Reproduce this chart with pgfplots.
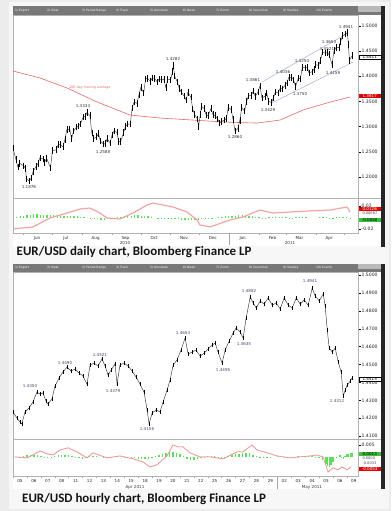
\documentclass[border=0pt]{standalone}
\usepackage{fontspec}
\usepackage{pgfplots}
\usepackage{pgfplotstable}
\pgfplotsset{compat=1.18}
\setmainfont{DejaVu Sans}
\newfontfamily\capfont{Carlito}
\newcommand{\tk}{\fontsize{4.6}{5}\selectfont}
\newcommand{\tkk}{\fontsize{4.1}{4.5}\selectfont}
\newcommand{\tbf}{\fontsize{3}{3.5}\selectfont}
\definecolor{bgc}{HTML}{ECECEC}
\definecolor{innerc}{HTML}{F7F7F7}
\definecolor{tb}{HTML}{787878}
\definecolor{mared}{HTML}{E46A6A}
\definecolor{oscred}{HTML}{EC8A8A}
\definecolor{oscgreen}{HTML}{3FD83F}
\definecolor{trend}{HTML}{A8AEDC}
\definecolor{lbl}{HTML}{383838}
\definecolor{hlbl}{HTML}{4A4A6E}

\pgfplotstableread{
d c
-11 1.257
-8 1.235
-6 1.220
-4 1.227
0 1.222
2 1.217
3 1.196
6 1.192
8 1.198
10 1.211
13 1.221
15 1.227
17 1.238
20 1.236
22 1.229
24 1.237
28 1.218
30 1.252
34 1.254
36 1.264
38 1.264
41 1.260
43 1.274
45 1.294
48 1.295
50 1.276
52 1.291
55 1.299
57 1.301
59 1.305
62 1.319
64 1.320
66 1.328
69 1.322
71 1.287
73 1.276
76 1.280
78 1.286
80 1.271
83 1.265
85 1.266
87 1.276
90 1.267
92 1.283
94 1.291
97 1.289
99 1.270
101 1.270
104 1.288
106 1.300
108 1.305
111 1.305
113 1.337
115 1.349
118 1.346
120 1.363
122 1.378
125 1.367
127 1.395
129 1.396
132 1.390
134 1.397
136 1.396
139 1.389
141 1.395
143 1.394
146 1.394
148 1.378
150 1.394
153 1.393
155 1.410
156 1.422
157 1.401
160 1.389
162 1.376
164 1.369
167 1.361
169 1.353
171 1.368
174 1.359
176 1.335
178 1.324
181 1.315
182 1.300
184 1.324
185 1.340
188 1.336
190 1.323
192 1.322
195 1.336
197 1.324
199 1.322
202 1.315
204 1.307
206 1.310
209 1.313
211 1.316
213 1.338
216 1.334
218 1.314
220 1.291
223 1.296
225 1.312
227 1.338
230 1.331
232 1.350
234 1.361
237 1.362
239 1.371
241 1.360
244 1.369
246 1.381
248 1.357
251 1.360
253 1.367
255 1.350
258 1.348
260 1.357
262 1.369
265 1.367
267 1.376
269 1.375
272 1.382
274 1.387
276 1.398
279 1.398
281 1.393
283 1.380
286 1.397
288 1.395
290 1.418
293 1.417
295 1.418
297 1.407
300 1.409
302 1.414
304 1.423
307 1.422
309 1.432
311 1.448
314 1.446
316 1.447
318 1.443
321 1.423
323 1.451
325 1.457
328 1.457
330 1.469
332 1.481
335 1.484
337 1.487
338 1.463
339 1.432
342 1.441
}\dprice

\pgfplotstableread{
d m
-11 1.4106
17.1 1.3967
45.2 1.3768
76.4 1.3490
110.7 1.3230
142 1.3170
176.3 1.3130
209.6 1.3090
242.9 1.3070
266.8 1.3130
290.8 1.3330
315.7 1.3470
339.7 1.3590
}\dma

\pgfplotstableread{
d v
-11 -0.0200
9.8 -0.0165
27.5 -0.0009
45.2 0.0078
58.7 0.0148
69.1 0.0165
79.5 0.0078
86.8 -0.0009
100.3 -0.0026
113.9 0.0078
128.4 0.0217
134.7 0.0252
155.5 0.0183
170.1 0.0096
180.5 -0.0043
183.6 -0.0130
194 -0.0165
214.8 -0.0043
228.3 0.0009
246 0.0130
259.6 0.0078
277.2 0.0096
294.9 0.0113
318.9 0.0130
336.6 0.0183
339.7 0.0096
}\dosc

\pgfplotstableread{
d h
-7 0.001
-3.5 0.002
0 0.003
3.5 0.004
7 0.005
10.5 0.006
14 0.006
17.5 0.005
21 0.005
24.5 0.004
28 0.004
31.5 0.004
35 0.004
38.5 0.003
42 0.003
45.5 0.003
49 0.003
52.5 0.002
56 0.002
59.5 0.001
63 0.001
66.5 0.000
70 -0.001
73.5 -0.002
77 -0.003
80.5 -0.004
84 -0.004
87.5 -0.003
91 -0.003
94.5 -0.001
98 0.001
101.5 0.001
105 0.002
108.5 0.003
112 0.003
115.5 0.004
119 0.004
122.5 0.003
126 0.003
129.5 0.002
133 0.001
136.5 0.000
140 -0.001
143.5 -0.001
147 -0.002
150.5 -0.002
154 -0.003
157.5 -0.003
161 -0.003
164.5 -0.004
168 -0.004
171.5 -0.005
175 -0.005
178.5 -0.005
182 -0.004
185.5 -0.003
189 -0.002
192.5 -0.002
196 -0.001
199.5 0.000
203 0.001
206.5 0.001
210 0.002
213.5 0.002
217 0.003
220.5 0.003
224 0.004
227.5 0.004
231 0.003
234.5 0.003
238 0.002
241.5 0.001
245 0.001
248.5 -0.001
252 -0.001
255.5 0.001
259 0.001
262.5 0.001
266 0.001
269.5 0.001
273 0.001
276.5 -0.001
280 -0.001
283.5 0.001
287 0.001
290.5 0.001
294 0.001
308 0.001
311.5 0.001
315 0.001
318.5 -0.001
322 -0.001
325.5 0.001
329 0.001
332.5 0.001
336 0.001
340 -0.002
}\dhist

\pgfplotstableread{
t p
-0.50 1.4235
-0.22 1.4201
0.00 1.4179
0.14 1.4168
0.36 1.4235
0.65 1.4257
0.94 1.4291
1.22 1.4346
1.44 1.4335
1.65 1.4341
1.87 1.4296
2.01 1.4279
2.30 1.4307
2.52 1.4380
2.81 1.4425
3.09 1.4458
3.38 1.4486
3.67 1.4464
3.96 1.4475
4.24 1.4453
4.53 1.4436
4.82 1.4391
5.04 1.4497
5.32 1.4508
5.61 1.4492
5.90 1.4531
6.12 1.4492
6.33 1.4441
6.55 1.4469
6.83 1.4503
6.98 1.4391
7.19 1.4497
7.48 1.4508
7.77 1.4492
8.06 1.4464
8.35 1.4430
8.63 1.4391
8.92 1.4346
9.14 1.4246
9.28 1.4168
9.50 1.4229
9.78 1.4246
10.07 1.4235
10.29 1.4291
10.58 1.4358
10.79 1.4413
11.01 1.4497
11.29 1.4525
11.58 1.4581
11.87 1.4648
12.09 1.4559
12.37 1.4570
12.66 1.4581
12.95 1.4547
13.24 1.4564
13.53 1.4587
13.81 1.4609
14.03 1.4620
14.24 1.4570
14.53 1.4508
14.75 1.4581
15.04 1.4631
15.32 1.4676
15.54 1.4704
15.83 1.4682
16.04 1.4648
16.26 1.4760
16.55 1.4877
16.76 1.4844
16.98 1.4816
17.27 1.4855
17.55 1.4838
17.84 1.4872
18.13 1.4832
18.42 1.4844
18.71 1.4810
18.99 1.4872
19.28 1.4832
19.57 1.4816
19.86 1.4872
20.14 1.4838
20.43 1.4860
20.72 1.4832
21.01 1.4927
21.22 1.4883
21.51 1.4855
21.80 1.4894
21.94 1.4827
22.09 1.4693
22.23 1.4592
22.45 1.4570
22.66 1.4592
22.88 1.4514
23.09 1.4458
23.24 1.4324
23.38 1.4358
23.53 1.4385
23.74 1.4408
23.88 1.4425
}\hprice

\pgfplotstableread{
t v
-0.36 0.0000
0.51 -0.0004
0.94 0.0008
1.44 0.0025
1.94 0.0013
2.38 0.0008
2.88 0.0029
3.45 0.0038
4.10 0.0021
4.82 -0.0004
5.25 0.0017
6.26 -0.0004
7.19 0.0004
8.13 -0.0008
8.85 -0.0021
9.35 -0.0042
9.85 -0.0033
10.57 0.0004
11.00 0.0050
11.36 0.0042
11.72 0.0042
12.22 0.0017
12.94 0.0000
13.66 0.0000
14.60 -0.0008
15.60 0.0021
16.03 0.0021
16.68 0.0050
17.04 0.0029
17.76 0.0017
18.48 0.0004
19.41 -0.0004
20.13 0.0000
20.85 0.0004
21.35 0.0008
21.79 0.0000
22.15 -0.0063
22.50 -0.0046
22.86 -0.0054
23.15 -0.0042
23.51 -0.0054
23.80 -0.0042
}\hosc

\pgfplotstableread{
t h
-0.5 0.0002
-0.25 0.0000
0 -0.0003
0.25 0.0002
0.5 0.0006
0.75 0.0007
1.0 0.0008
1.25 0.0006
1.5 0.0004
1.75 -0.0002
2.0 -0.0006
2.25 -0.0002
2.5 0.0003
2.75 0.0007
3.0 0.0010
3.25 0.0010
3.5 0.0008
3.75 0.0002
4.0 -0.0003
4.25 -0.0005
4.5 -0.0007
4.75 -0.0002
5.0 0.0005
5.25 0.0005
5.5 0.0004
5.75 0.0000
6.0 -0.0003
6.25 -0.0004
6.5 -0.0004
6.75 0.0000
7.0 0.0002
7.25 0.0000
7.5 -0.0003
7.75 -0.0004
8.0 -0.0005
8.25 -0.0006
8.5 -0.0008
8.75 -0.0009
9.0 -0.0010
9.25 -0.0008
9.5 -0.0004
9.75 0.0004
10.0 0.0010
10.25 0.0014
10.5 0.0018
10.75 0.0019
11.0 0.0020
11.25 0.0016
11.5 0.0012
11.75 0.0002
12.0 -0.0008
12.25 -0.0011
12.5 -0.0014
12.75 -0.0010
13.0 -0.0006
13.25 -0.0001
13.5 0.0003
13.75 0.0003
14.0 0.0002
14.25 -0.0003
14.5 -0.0008
14.75 -0.0002
15.0 0.0004
15.25 0.0008
15.5 0.0012
15.75 0.0014
16.0 0.0015
16.25 0.0016
16.5 0.0016
16.75 0.0009
17.0 0.0002
17.25 -0.0001
17.5 -0.0004
17.75 -0.0003
18.0 -0.0003
18.25 0.0000
18.5 0.0002
18.75 0.0000
19.0 -0.0003
19.25 -0.0004
19.5 -0.0004
19.75 -0.0001
20.0 0.0002
20.25 0.0004
20.5 0.0005
20.75 0.0004
21.0 0.0004
21.25 0.0001
21.5 -0.0002
21.75 -0.0012
22.0 -0.0030
22.12 -0.0038
22.25 -0.0042
22.37 -0.0032
22.5 -0.0020
22.75 -0.0004
23.0 0.0006
23.12 -0.0004
23.25 -0.0010
23.37 0.0002
23.5 0.0012
23.62 0.0014
23.75 0.0016
23.87 0.0016
}\hhist

\pgfplotsset{
  bb/.style={scale only axis, anchor=south west, width=345bp,
    axis line style={draw=gray!60, line width=0.4pt},
    tick style={black, line width=0.4pt}, tick align=outside,
    ytick pos=right, yticklabel pos=right, xtick pos=bottom,
    scaled y ticks=false, scaled x ticks=false,
    major tick length=2.5bp, minor tick length=2.5bp,
    tick label style={font=\tk, text=black!85},
    yticklabel style={inner sep=0.6bp, xshift=0.3bp},
    xticklabel style={font=\tkk, inner sep=0.6bp},
    /pgf/number format/assume math mode=true},
}

\begin{document}
\begin{tikzpicture}[x=1bp,y=1bp]
\useasboundingbox (0,0) rectangle (391,511);
\fill[bgc] (0,0) rectangle (391,511);
\fill[innerc] (9,2) rectangle (389,509);
% panels
\fill[white] (13,265) rectangle (381,505);
\fill[white] (13,22) rectangle (381,247);
\fill[black!85] (381,264) rectangle (384.5,505);
\fill[black!85] (381,22) rectangle (384.5,247);
% toolbars
\fill[tb] (13,496) rectangle (381,505);
\fill[tb] (13,239) rectangle (381,247);
\fill[gray!55] (358,499) rectangle (381,505);
\fill[gray!55] (358,242) rectangle (381,247);
\foreach \x/\t in {15/{1) Export},47/{2) View},82/{3) Period Range},116/{4) Track},150/{5) Annotate},183/{6) News},216/{7) Zoom},249/{8) Securities},283/{9) Studies},316/{10) Events}}{
  \node[anchor=west, font=\tbf, text=white!85, inner sep=0] at (\x,500.5) {\t};
  \node[anchor=west, font=\tbf, text=white!85, inner sep=0] at (\x,243) {\t};
}
% separators across label column
\draw[gray!60, line width=0.4pt] (358,313) -- (381,313);
\draw[gray!60, line width=0.4pt] (358,72) -- (381,72);

% ---------- daily price ----------
\begin{axis}[bb, at={(13bp,313bp)}, height=183bp,
  xmin=-11, xmax=348, ymin=1.158, ymax=1.522, xtick=\empty,
  ytick={1.2,1.25,1.3,1.35,1.4,1.45,1.5},
  yticklabels={1.2000,1.2500,1.3000,1.3500,1.4000,1.4500,1.5000}]
\addplot[mared, line width=0.6pt] table[x=d,y=m]{\dma};
\addplot[trend, line width=0.5pt] coordinates {(248.1,1.3887) (337.6,1.4862)};
\addplot[trend, line width=0.5pt] coordinates {(258.5,1.3470) (342.8,1.4285)};
\addplot[black!75, line width=0.45pt, mark=none,
  error bars/.cd, y dir=both, y fixed=0.0065, error mark=none,
  error bar style={black, line width=0.5pt}] table[x=d,y=c]{\dprice};
\node[font=\tkk, text=lbl] at (axis cs:5.6,1.1799) {1.1876};
\node[font=\tkk, text=lbl] at (axis cs:61.8,1.3410) {1.3334};
\node[font=\tkk, text=lbl] at (axis cs:82.7,1.2495) {1.2588};
\node[font=\tkk, text=lbl] at (axis cs:155.5,1.4345) {1.4282};
\node[font=\tkk, text=lbl] at (axis cs:220,1.2793) {1.2860};
\node[font=\tkk, text=lbl] at (axis cs:238.7,1.3927) {1.3861};
\node[font=\tkk, text=lbl] at (axis cs:254.3,1.3330) {1.3429};
\node[font=\tkk, text=lbl] at (axis cs:270,1.4086) {1.4036};
\node[font=\tkk, text=lbl] at (axis cs:289.7,1.4305) {1.4250};
\node[font=\tkk, text=lbl] at (axis cs:287.6,1.3649) {1.3750};
\node[font=\tkk, text=lbl] at (axis cs:322,1.4066) {1.4159};
\node[font=\tkk, text=lbl] at (axis cs:315.7,1.4544) {1.4521};
\node[font=\tkk, text=lbl] at (axis cs:317.8,1.4683) {1.4653};
\node[font=\tkk, text=lbl] at (axis cs:335.5,1.4981) {1.4941};
\node[font=\fontsize{3.3}{4}\selectfont, text=mared] at (axis cs:69,1.3768) {200 day moving average};
\end{axis}

% ---------- daily oscillator ----------
\begin{axis}[bb, at={(13bp,278bp)}, height=35bp,
  xmin=-11, xmax=348, ymin=-0.027, ymax=0.034,
  ytick={-0.02,0.02}, yticklabels={-0.02,0.02},
  xtick={14,44,75,106,136,167,197,228,259,287,318},
  xticklabels={Jun,Jul,Aug,Sep,Oct,Nov,Dec,Jan,Feb,Mar,Apr},
  major x tick style={draw=none},
  minor xtick={0,30,61,92,122,153,183,214,245,273,304,334},
  minor x tick style={gray!70}]
\addplot[ycomb, oscgreen!85, line width=1.3pt] table[x=d,y=h]{\dhist};
\addplot[oscred!60, line width=1.6pt, opacity=0.6] table[x=d,y=v]{\dosc};
\addplot[oscred, line width=0.5pt] table[x=d,y=v]{\dosc};
\end{axis}
\draw[gray!70, line width=0.4pt] (229,278) -- (229,266);
\node[font=\tkk, text=black!80] at (125,268) {2010};
\node[font=\tkk, text=black!80] at (290,268) {2011};
% daily right boxes
\node[draw=black, fill=white, font=\tkk, inner sep=0.5bp, minimum width=22bp, anchor=west] at (358.5,454) {1.4411};
\node[fill=red!85!black, text=white, font=\tkk, inner sep=0.5bp, minimum width=22bp, anchor=west] at (358.5,415) {1.3617};
\node[fill=red!90!black, text=white, font=\tkk, inner sep=0.5bp, minimum width=22bp, anchor=west] at (358.5,302) {0.0126};
\node[font=\fontsize{3.6}{4}\selectfont, text=black!70, inner sep=0.3bp, anchor=west] at (362,298) {0.00687};
\node[fill=oscgreen!90!black, text=black, font=\tkk, inner sep=0.5bp, minimum width=22bp, anchor=west] at (358.5,291) {-0.0050};
% daily caption
\node[anchor=base west, font=\capfont\bfseries\fontsize{13}{14}\selectfont, text=black!92, inner sep=0] at (16.5,255) {EUR/USD daily chart, Bloomberg Finance LP};

% ---------- hourly price ----------
\begin{axis}[bb, at={(13bp,72bp)}, height=167bp,
  xmin=-0.5, xmax=24.3, ymin=1.4084, ymax=1.5017, xtick=\empty,
  ytick={1.41,1.42,1.43,1.44,1.45,1.46,1.47,1.48,1.49,1.50},
  yticklabels={1.4100,1.4200,1.4300,1.4400,1.4500,1.4600,1.4700,1.4800,1.4900,1.5000}]
\addplot[black!80, line width=0.45pt, mark=none,
  error bars/.cd, y dir=both, y fixed=0.0011, error mark=none,
  error bar style={black, line width=0.45pt}] table[x=t,y=p]{\hprice};
\node[font=\tkk, text=hlbl] at (axis cs:0.72,1.4380) {1.4350};
\node[font=\tkk, text=hlbl] at (axis cs:3.24,1.4508) {1.4490};
\node[font=\tkk, text=hlbl] at (axis cs:5.75,1.4553) {1.4521};
\node[font=\tkk, text=hlbl] at (axis cs:6.69,1.4352) {1.4379};
\node[font=\tkk, text=hlbl] at (axis cs:9.13,1.4140) {1.4156};
\node[font=\tkk, text=hlbl] at (axis cs:11.72,1.4676) {1.4653};
\node[font=\tkk, text=hlbl] at (axis cs:14.6,1.4469) {1.4495};
\node[font=\tkk, text=hlbl] at (axis cs:16.1,1.4615) {1.4635};
\node[font=\tkk, text=hlbl] at (axis cs:16.47,1.4911) {1.4882};
\node[font=\tkk, text=hlbl] at (axis cs:20.85,1.4966) {1.4941};
\node[font=\tkk, text=hlbl] at (axis cs:22.79,1.4296) {1.4312};
\end{axis}

% ---------- hourly oscillator ----------
\begin{axis}[bb, at={(13bp,35bp)}, height=37bp,
  xmin=-0.5, xmax=24.3, ymin=-0.008, ymax=0.0075,
  ytick={0.005}, yticklabels={0.005},
  xtick={0,...,24},
  xticklabels={05,06,07,08,11,12,13,14,15,18,19,20,21,22,25,26,27,28,29,02,03,04,05,06,09},
  major x tick style={draw=none},
  minor xtick={-0.5,0.5,...,23.5},
  minor x tick style={gray!70}]
\addplot[ycomb, oscgreen!85, line width=1.4pt] table[x=t,y=h]{\hhist};
\addplot[oscred!60, line width=1.2pt, opacity=0.5] table[x=t,y=v]{\hosc};
\addplot[oscred, line width=0.5pt] table[x=t,y=v]{\hosc};
\end{axis}
\draw[gray!70, line width=0.4pt] (277,35) -- (277,22);
\node[font=\tkk, text=black!80] at (135,24) {Apr 2011};
\node[font=\tkk, text=black!80] at (312,24) {May 2011};
% hourly right boxes
\node[draw=black, fill=white, font=\tkk, inner sep=0.5bp, minimum width=22bp, anchor=west] at (358.5,132) {1.4415};
\node[fill=oscgreen!90!black, text=black, font=\tkk, inner sep=0.5bp, minimum width=22bp, anchor=west] at (358.5,57) {0.0013};
\node[font=\fontsize{3.6}{4}\selectfont, text=black!70, inner sep=0.3bp, anchor=west] at (362,53) {0.0000};
\node[font=\fontsize{3.6}{4}\selectfont, text=black!70, inner sep=0.3bp, anchor=west] at (362,48) {-0.0033};
\node[fill=red!90!black, text=white, font=\tkk, inner sep=0.5bp, minimum width=22bp, anchor=west] at (358.5,42) {-0.0053};
% hourly caption
\node[anchor=base west, font=\capfont\bfseries\fontsize{13}{14}\selectfont, text=black!92, inner sep=0] at (22,8) {EUR/USD hourly chart, Bloomberg Finance LP};
\end{tikzpicture}
\end{document}
